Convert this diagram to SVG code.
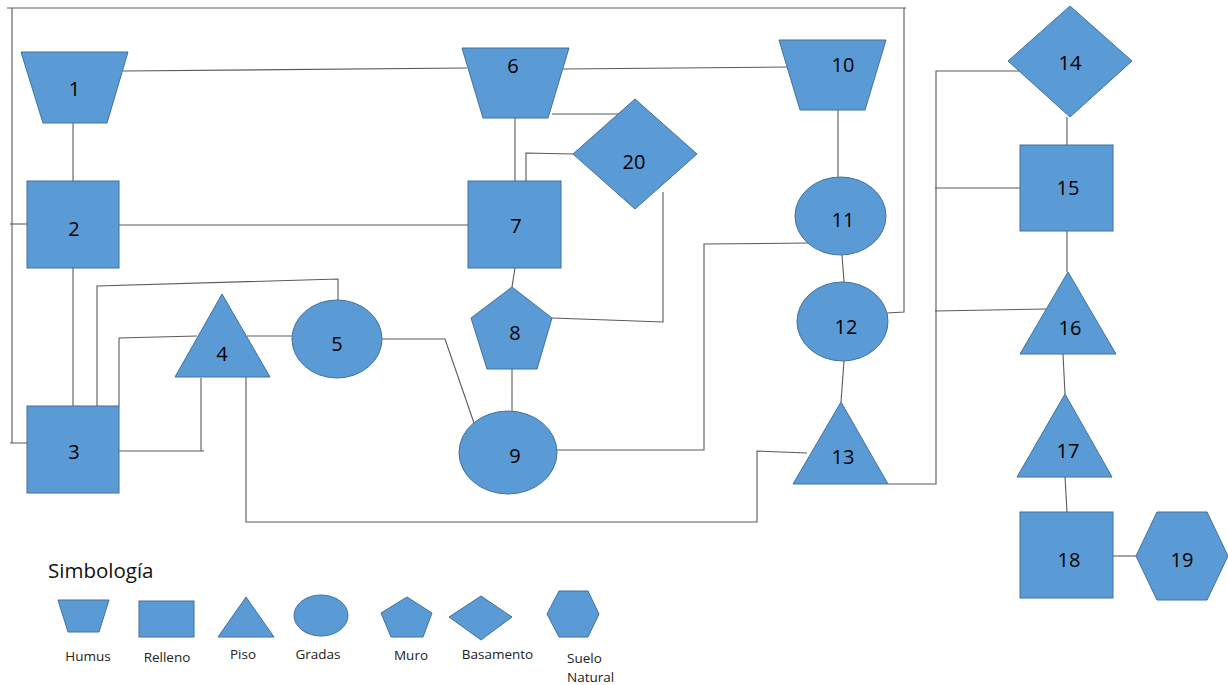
<svg xmlns="http://www.w3.org/2000/svg" width="1228" height="685" viewBox="0 0 1228 685">
<style>
.n{fill:#5B9BD5;stroke:#41719C;stroke-width:1}
.c{fill:none;stroke:#5a5a5a;stroke-width:1.1}
.t{font-family:"Open Sans","Noto Sans",sans-serif;font-size:20px;fill:#000;text-anchor:middle}
.l{font-family:"Open Sans","Noto Sans",sans-serif;font-size:13.5px;fill:#222;text-anchor:middle}
.h{font-family:"Open Sans","Noto Sans",sans-serif;font-size:20.5px;fill:#111}
</style>
<rect width="1228" height="685" fill="#fff"/>
<g id="connectors">
<path class="c" d="M123,71 L467,68"/>
<path class="c" d="M563,69 L788,67"/>
<path class="c" d="M73,123 V181"/>
<path class="c" d="M73,268 V406"/>
<path class="c" d="M119,225 H468"/>
<path class="c" d="M515,118 V181"/>
<path class="c" d="M552,114 H619"/>
<path class="c" d="M573,154 L526,153 V181"/>
<path class="c" d="M515,268 L512,287"/>
<path class="c" d="M512,369 V411"/>
<path class="c" d="M663,192 V322 L552,318"/>
<path class="c" d="M382,339 L445,339 L474,423"/>
<path class="c" d="M809,243 L704,244 V450 H557"/>
<path class="c" d="M838,110 V177"/>
<path class="c" d="M842,255 L844,282"/>
<path class="c" d="M844,361 L841,402"/>
<path class="c" d="M887,313 L904,312 V8 M906,8 H7 M12,8 V443 M10,443 H28"/>
<path class="c" d="M10,224 H28"/>
<path class="c" d="M97,406 V286 L338,279 V300"/>
<path class="c" d="M119,406 V338 L197,336"/>
<path class="c" d="M247,336 H292"/>
<path class="c" d="M119,451 H204 M201,451 V378"/>
<path class="c" d="M807,453 L757,451 V522 H246 V377"/>
<path class="c" d="M888,484 H936 V71 H1019"/>
<path class="c" d="M935,188 H1020"/>
<path class="c" d="M935,311 L1047,309"/>
<path class="c" d="M1067,117 V145"/>
<path class="c" d="M1067,231 V272"/>
<path class="c" d="M1063,354 L1065,394"/>
<path class="c" d="M1065,477 L1067,512"/>
<path class="c" d="M1113,556 H1136"/>
</g>
<g id="node1"><polygon class="n" points="21,52 128,52 107,123 43,123"/><text class="t" x="74.5" y="96">1</text></g>
<g id="node2"><rect class="n" x="27" y="181" width="92" height="87"/><text class="t" x="74" y="236">2</text></g>
<g id="node3"><rect class="n" x="27" y="406" width="92" height="87"/><text class="t" x="74" y="459">3</text></g>
<g id="node4"><polygon class="n" points="222,294 270,377 175,377"/><text class="t" x="222" y="361">4</text></g>
<g id="node5"><ellipse class="n" cx="337" cy="339" rx="45" ry="39"/><text class="t" x="337" y="351">5</text></g>
<g id="node6"><polygon class="n" points="462,48 569,48 548,118 483,118"/><text class="t" x="513" y="73">6</text></g>
<g id="node7"><rect class="n" x="468" y="181" width="93" height="87"/><text class="t" x="516" y="233">7</text></g>
<g id="node8"><polygon class="n" points="512,287 552,318 537,369 487,369 471,318"/><text class="t" x="515" y="340">8</text></g>
<g id="node9"><ellipse class="n" cx="508" cy="452.5" rx="49" ry="41.5"/><text class="t" x="515" y="463">9</text></g>
<g id="node10"><polygon class="n" points="779,40 886,40 865,110 800,110"/><text class="t" x="843" y="72">10</text></g>
<g id="node11"><ellipse class="n" cx="840.5" cy="216" rx="45.5" ry="39"/><text class="t" x="843" y="227">11</text></g>
<g id="node12"><ellipse class="n" cx="842.5" cy="321.5" rx="45.5" ry="39.5"/><text class="t" x="846" y="334">12</text></g>
<g id="node13"><polygon class="n" points="841,402 888,484 793,484"/><text class="t" x="843" y="464">13</text></g>
<g id="node14"><polygon class="n" points="1070,6 1132,61 1070,117 1008,61"/><text class="t" x="1070" y="70">14</text></g>
<g id="node15"><rect class="n" x="1020" y="145" width="93" height="86"/><text class="t" x="1068" y="195">15</text></g>
<g id="node16"><polygon class="n" points="1068,272 1116,354 1020,354"/><text class="t" x="1070" y="335">16</text></g>
<g id="node17"><polygon class="n" points="1065,394 1112,477 1017,477"/><text class="t" x="1068" y="458">17</text></g>
<g id="node18"><rect class="n" x="1020" y="512" width="93" height="86"/><text class="t" x="1069" y="567">18</text></g>
<g id="node19"><polygon class="n" points="1136,556 1157,512 1207,512 1228,556 1207,600 1157,600"/><text class="t" x="1182" y="567">19</text></g>
<g id="node20"><polygon class="n" points="635,99 697,154 635,209 573,154"/><text class="t" x="634" y="169">20</text></g>
<g id="legend">
<text class="h" x="48" y="578">Simbología</text>
<polygon class="n" points="58,600 109,600 99,632 68,632"/>
<rect class="n" x="139" y="601" width="55" height="36"/>
<polygon class="n" points="246,597 274,637 218,637"/>
<ellipse class="n" cx="321" cy="615.5" rx="27" ry="20.5"/>
<polygon class="n" points="407,597 432,613 423,637 391,637 381,613"/>
<polygon class="n" points="481,596 512,617 481,640 449,617"/>
<polygon class="n" points="547,614 559,591 588,591 599,614 588,637 559,637"/>
<text class="l" x="88" y="661">Humus</text>
<text class="l" x="167" y="662">Relleno</text>
<text class="l" x="243" y="659">Piso</text>
<text class="l" x="318" y="659">Gradas</text>
<text class="l" x="411" y="660">Muro</text>
<text class="l" x="497.5" y="659">Basamento</text>
<text class="l" x="567" y="663" style="text-anchor:start">Suelo</text>
<text class="l" x="567" y="682" style="text-anchor:start">Natural</text>
</g>
</svg>
